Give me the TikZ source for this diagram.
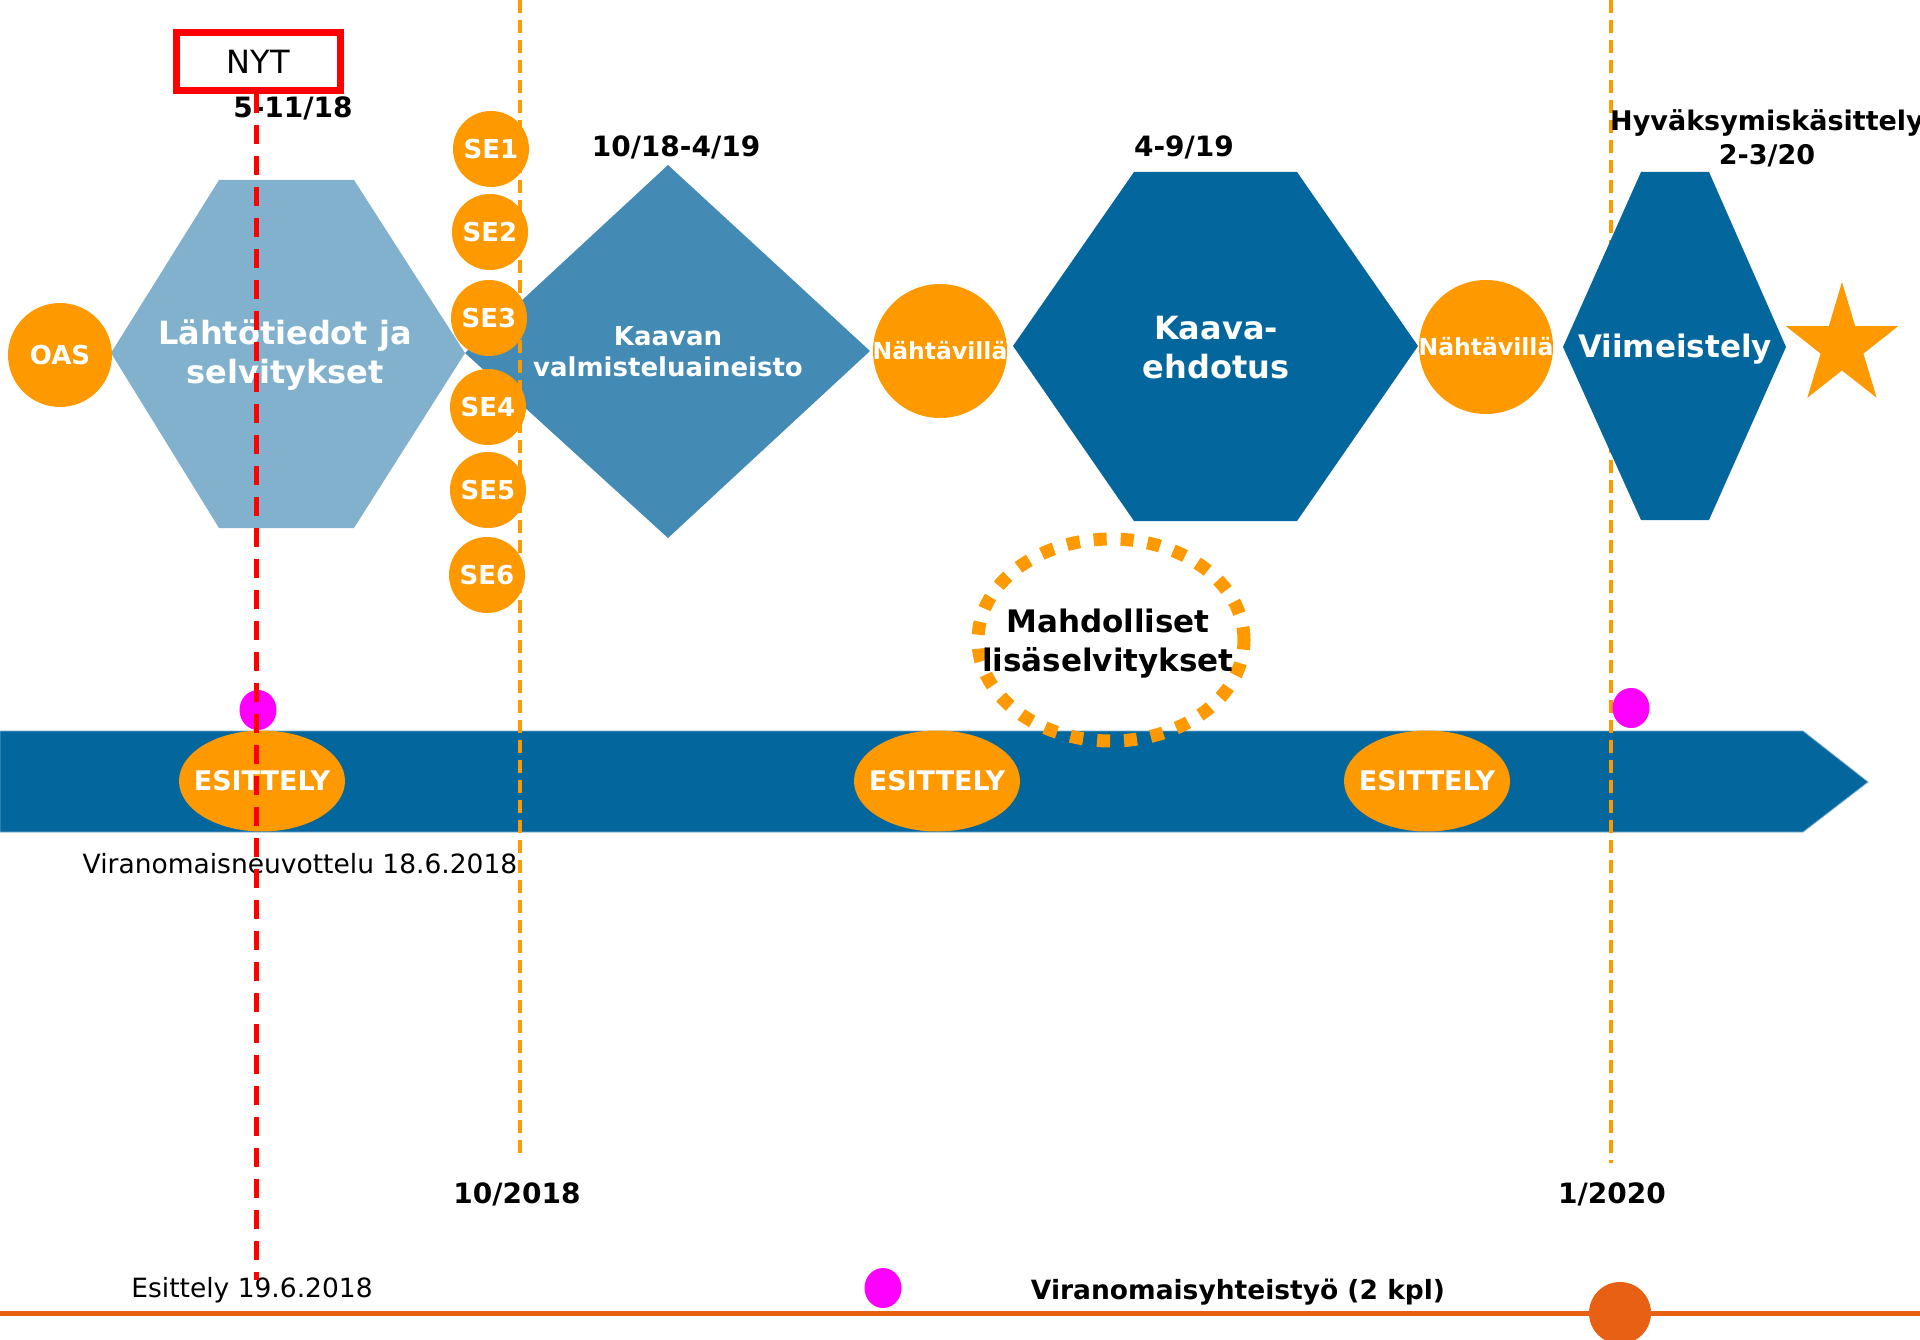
\documentclass[tikz,border=0pt]{standalone}
\usepackage{fontspec}
\setmainfont{DejaVu Sans}
\usetikzlibrary{shapes.geometric}
\definecolor{cOrange}{RGB}{255,153,0}
\definecolor{cLight}{RGB}{129,177,205}
\definecolor{cMid}{RGB}{67,139,181}
\definecolor{cDark}{RGB}{3,103,158}
\definecolor{cEdge}{RGB}{120,170,205}
\definecolor{cMag}{RGB}{255,0,255}
\definecolor{cRed}{RGB}{255,0,0}
\definecolor{cLineOr}{RGB}{232,96,20}
\newcommand\fsz[2]{\fontsize{#1}{#2}\selectfont}
\begin{document}
\begin{tikzpicture}[x=1pt,y=-1pt,
  lbl/.style={inner sep=0pt,align=center},
  ocirc/.style={circle,fill=cOrange,inner sep=0pt,text=white,font=\bfseries\fsz{26}{30}},
  wtxt/.style={lbl,text=white},
  btxt/.style={lbl,text=black},
  datetxt/.style={btxt,anchor=base,font=\bfseries\fsz{28}{34}},
  plaintxt/.style={btxt,anchor=base,font=\fsz{26.5}{32}},
  esit/.style={ellipse,fill=cOrange,inner sep=0pt,minimum width=166pt,minimum height=101pt},
  etext/.style={text=white,inner sep=0pt,font=\bfseries\fsz{27}{32}},
  ntext/.style={text=white,inner sep=0pt,font=\bfseries\fsz{23.5}{28}},
  magdot/.style={ellipse,fill=cMag,inner sep=0pt,minimum width=37pt,minimum height=40pt},
  ordash/.style={draw=cOrange,line width=4pt,dash pattern=on 13pt off 7pt},
  reddash/.style={draw=cRed,line width=5pt,dash pattern=on 19pt off 12pt},
]
\useasboundingbox (0,0) rectangle (1920,1340);

% ---- main phase shapes
\fill[cLight] (111,353) -- (219,180) -- (354,180) -- (465,353) -- (354,528) -- (219,528) -- cycle;
\fill[cMid] (465,353) -- (668,165) -- (870,351) -- (668,538) -- cycle;
\fill[cDark] (1013,346) -- (1134,172) -- (1297,172) -- (1418,346) -- (1297,521) -- (1134,521) -- cycle;

% ---- time bar
\fill[cDark, draw=cEdge, line width=0.8pt] (0,731) -- (1803,731) -- (1868,782) -- (1803,832) -- (0,832) -- cycle;

% ---- orange dashed time markers
\coordinate (m1top) at (520,0);
\coordinate (m1bot) at (520,1157);
\coordinate (m2top) at (1611,0);
\coordinate (m2bot) at (1611,1163);
\draw[ordash] (m2top) -- (m2bot);
\draw[ordash] (m1top) -- (m1bot);

% Viimeistely hexagon (covers second marker)
\fill[cDark] (1563,347) -- (1641,172) -- (1709,172) -- (1786,347) -- (1709,520) -- (1641,520) -- cycle;

% star
\fill[cOrange] (1842,282) -- (1855.2,326.2) -- (1898.1,326.2) -- (1863.4,353.6) -- (1876.7,397.8)
  -- (1842,370.5) -- (1807.3,397.8) -- (1820.6,353.6) -- (1785.9,326.2) -- (1828.8,326.2) -- cycle;

% ---- phase texts
\node[wtxt,font=\bfseries\fsz{32}{39}] (t1) at (285,355) {Lähtötiedot ja\\selvitykset};
\node[wtxt,font=\bfseries\fsz{26}{31}] (t2) at (668,352) {Kaavan\\valmisteluaineisto};
\node[wtxt,font=\bfseries\fsz{32}{39}] (t3) at (1216,348) {Kaava-\\ehdotus};
\node[wtxt,font=\bfseries\fsz{31}{36},anchor=base] (t4) at (1675,358) {Viimeistely};

% ---- orange circles
\node[ocirc,minimum size=104pt] (oas) at (60,355) {OAS};
\node[ocirc,minimum size=76pt] (se1) at (491,149) {SE1};
\node[ocirc,minimum size=76pt] (se2) at (490,232) {SE2};
\node[ocirc,minimum size=76pt] (se3) at (489,318) {SE3};
\node[ocirc,minimum size=76pt] (se4) at (488,407) {SE4};
\node[ocirc,minimum size=76pt] (se5) at (488,490) {SE5};
\node[ocirc,minimum size=76pt] (se6) at (487,575) {SE6};
\node[ocirc,minimum size=134pt,label={[ntext]center:Nähtävillä}] (nah1) at (940,351) {};
\node[ocirc,minimum size=134pt,label={[ntext]center:Nähtävillä}] (nah2) at (1486,347) {};

% ---- date labels
\node[datetxt] (d1) at (293,118) {5-11/18};
\node[datetxt] (d2) at (676,157) {10/18-4/19};
\node[datetxt] (d3) at (1184,157) {4-9/19};
\node[btxt,font=\bfseries\fsz{27}{34}] (d4) at (1767,138) {Hyväksymiskäsittely\\2-3/20};

% ---- possible extra studies
\draw[cOrange, line width=13pt, dash pattern=on 13pt off 14pt] (1111,640) ellipse [x radius=133pt, y radius=101pt];
\node[btxt,font=\bfseries\fsz{31}{39}] (lisa) at (1108,644) {Mahdolliset\\lisäselvitykset};

% ---- presentations on the bar
\node[esit,label={[etext]center:ESITTELY}] (es1) at (262,781) {};
\node[esit,label={[etext]center:ESITTELY}] (es2) at (937,781) {};
\node[esit,label={[etext]center:ESITTELY}] (es3) at (1427,781) {};

% ---- magenta dots
\node[magdot] (mg1) at (258,710) {};
\node[magdot] (mg2) at (1631,708) {};
\node[magdot] (mg3) at (883,1288) {};

% ---- bottom texts
\node[plaintxt] (vn) at (300,873) {Viranomaisneuvottelu 18.6.2018};
\node[plaintxt] (es) at (252,1297) {Esittely 19.6.2018};
\node[datetxt] (y1) at (517,1203) {10/2018};
\node[datetxt] (y2) at (1612,1203) {1/2020};
\node[btxt,anchor=base,font=\bfseries\fsz{26.5}{32}] (vy) at (1238,1299) {Viranomaisyhteistyö (2 kpl)};

% ---- bottom orange line
\coordinate (lnL) at (0,1313);
\coordinate (lnR) at (1920,1313);
\draw[cLineOr, line width=5pt] (lnL) -- (lnR);
\node[circle,fill=cLineOr,inner sep=0pt,minimum size=62pt] (bigdot) at (1620,1313) {};

% ---- NYT marker
\node[draw=cRed,fill=white,line width=7pt,minimum width=164pt,minimum height=58pt,inner sep=0pt,font=\fsz{32}{38}] (nyt) at (258.5,61.5) {NYT};
\coordinate (redEnd) at (256,1280);
\draw[reddash] (nyt.south -| redEnd) -- (redEnd);
\end{tikzpicture}
\end{document}
